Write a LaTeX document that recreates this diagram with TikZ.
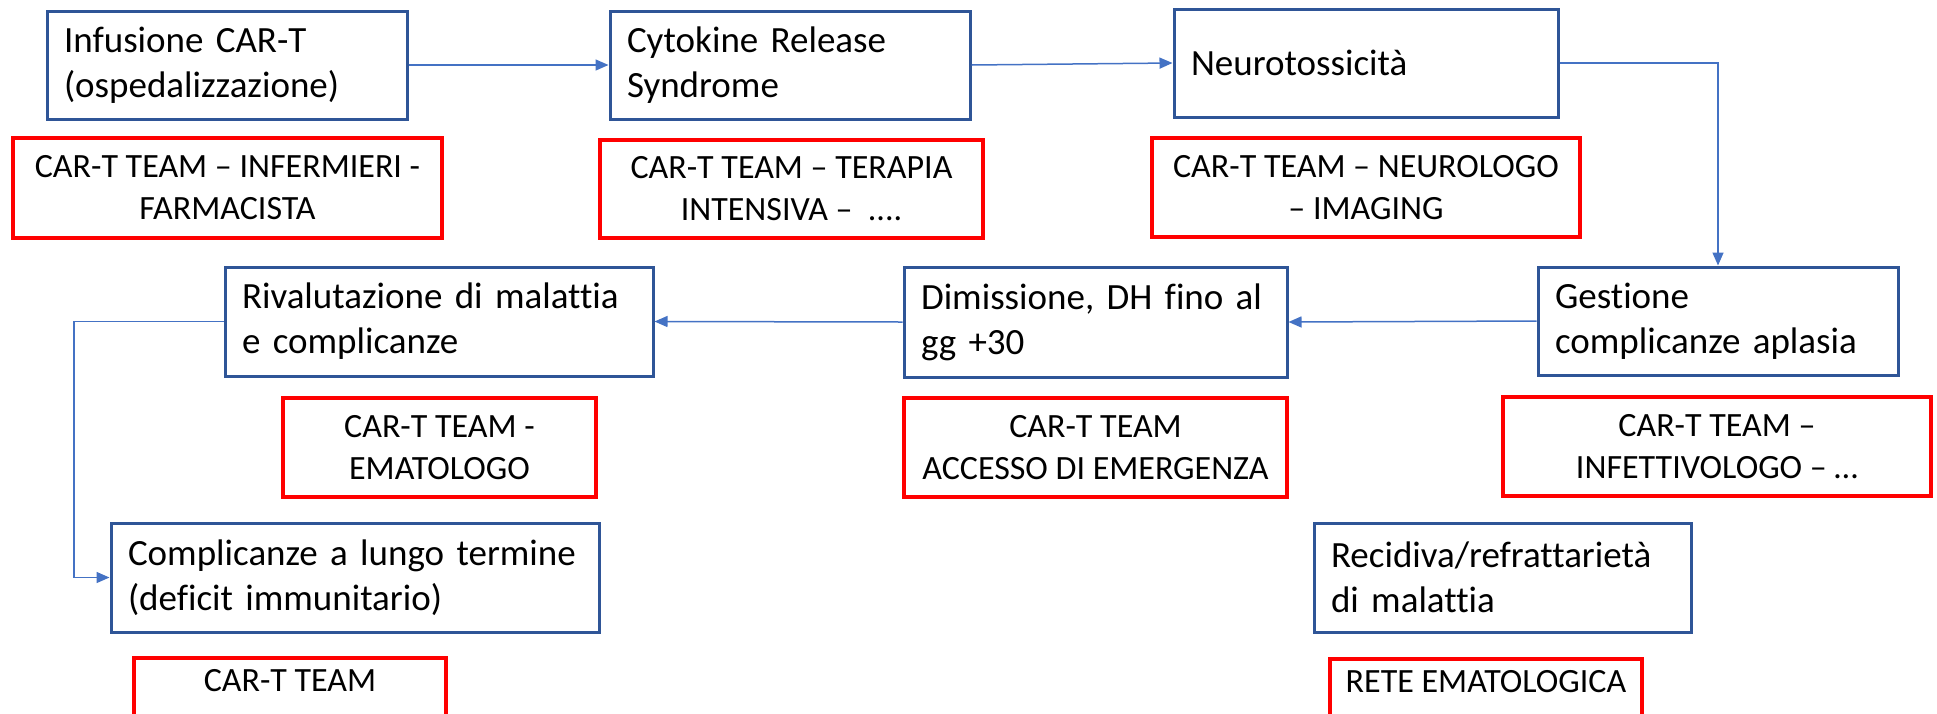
\documentclass[tikz,border=0pt]{standalone}
\usepackage{fontspec}
\setmainfont[Ligatures={NoCommon}]{Carlito}
\usetikzlibrary{arrows.meta}
\definecolor{boxblue}{HTML}{2F5597}
\definecolor{linkblue}{HTML}{4472C4}
\definecolor{teamred}{HTML}{FF0000}
\tikzset{
  stepbox/.style={draw=boxblue, line width=3pt, inner xsep=17pt, inner ysep=0pt,
    align=left, font=\fontsize{37}{45}\selectfont},
  teambox/.style={draw=teamred, line width=4.5pt, inner sep=0pt, align=center,
    font=\fontsize{34}{42}\selectfont},
  link/.style={draw=linkblue, line width=1.5pt, -{Triangle[length=13pt,width=11pt]}}
}
\begin{document}
\begin{tikzpicture}[x=1pt,y=-1pt]
\useasboundingbox (0,0) rectangle (1937,713);
\clip (0,0) rectangle (1937,713);
% row 1
\node[stepbox, text width=326pt, minimum height=108pt] (A) at (227,65) {Infusione CAR-T\\(ospedalizzazione)};
\node[teambox, minimum width=429pt, minimum height=100pt] (RA) at (227.5,188) {CAR-T TEAM – INFERMIERI -\\FARMACISTA};
\node[stepbox, text width=326pt, minimum height=108pt] (B) at (790,65) {Cytokine Release\\Syndrome};
\node[teambox, minimum width=383pt, minimum height=98pt] (RB) at (791.5,189) {CAR-T TEAM – TERAPIA\\INTENSIVA – \ ....};
\node[stepbox, text width=350pt, minimum height=108pt] (C) at (1366,63) {Neurotossicità};
\node[teambox, minimum width=428pt, minimum height=99pt] (RC) at (1366,187.5) {CAR-T TEAM – NEUROLOGO\\– IMAGING};
% row 2
\node[stepbox, text width=326pt, minimum height=108pt] (D) at (1718,321) {Gestione\\complicanze aplasia};
\node[teambox, minimum width=428pt, minimum height=99pt] (RD) at (1717,446.5) {CAR-T TEAM –\\INFETTIVOLOGO – …};
\node[stepbox, text width=349pt, minimum height=110pt] (E) at (1095.5,322) {Dimissione, DH fino al\\gg +30};
\node[teambox, minimum width=383pt, minimum height=99pt] (RE) at (1095.5,447.5) {CAR-T TEAM\\ACCESSO DI EMERGENZA};
\node[stepbox, text width=394pt, minimum height=109pt] (F) at (439,321.5) {Rivalutazione di malattia\\e complicanze};
\node[teambox, minimum width=313pt, minimum height=99pt] (RF) at (439.5,447.5) {CAR-T TEAM -\\EMATOLOGO};
% row 3
\node[stepbox, text width=454pt, minimum height=109pt] (G) at (355,577.5) {Complicanze a lungo termine\\(deficit immunitario)};
\node[teambox, minimum width=312pt, minimum height=99pt] (RG) at (290,707.5) {CAR-T TEAM\\\strut};
\node[stepbox, text width=343pt, minimum height=109pt] (H) at (1502.5,577.5) {Recidiva/refrattarietà\\di malattia};
\node[teambox, minimum width=312pt, minimum height=99pt] (RH) at (1486,708.5) {RETE EMATOLOGICA\\\strut};
% connectors
\draw[link] (A.east) -- (B.west);
\draw[link] (B.east) -- (C.west);
\draw[link] (C.east) -| (D.north);
\draw[link] (D.west) -- (E.east);
\draw[link] (E.west) -- (F.east);
\coordinate (bend) at (74,321.5);
\draw[link] (F.west) -- (bend) |- (G.west);
\end{tikzpicture}
\end{document}
